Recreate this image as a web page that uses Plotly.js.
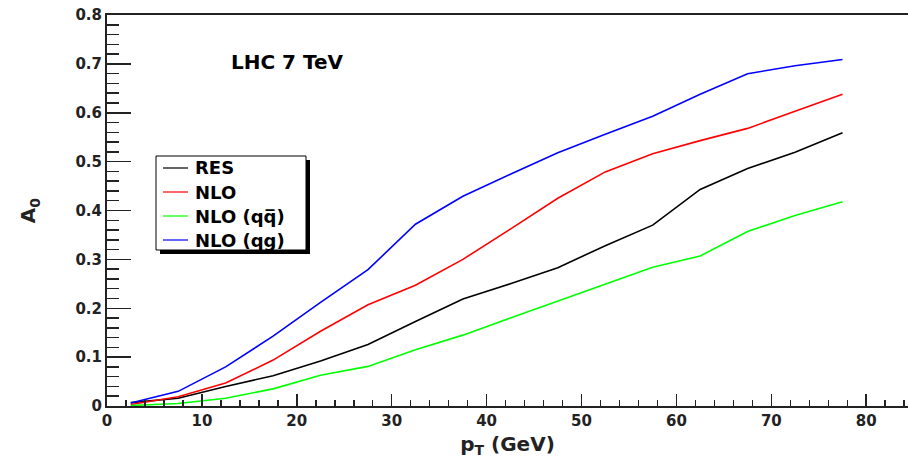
<!DOCTYPE html>
<html>
<head>
<meta charset="utf-8">
<script src="https://cdn.plot.ly/plotly-3.0.1.min.js"></script>
<style>
  html, body { margin: 0; padding: 0; background: #fff; }
  #chart { width: 908px; height: 461px; }
</style>
</head>
<body>
<div id="chart"></div>
<script>
// Angular coefficient A0 versus pT of the lepton pair, LHC 7 TeV
const ptBins = [2.5, 7.5, 12.5, 17.5, 22.5, 27.5, 32.5, 37.5, 42.5, 47.5, 52.5, 57.5, 62.5, 67.5, 72.5, 77.5];

const a0Res    = [0.007, 0.016, 0.040, 0.062, 0.092, 0.126, 0.173, 0.219, 0.250, 0.283, 0.328, 0.370, 0.443, 0.486, 0.519, 0.559];
const a0Nlo    = [0.003, 0.019, 0.047, 0.094, 0.153, 0.207, 0.247, 0.300, 0.362, 0.425, 0.479, 0.516, 0.543, 0.568, 0.603, 0.638];
const a0NloQQ  = [0.001, 0.005, 0.016, 0.035, 0.063, 0.081, 0.115, 0.145, 0.180, 0.215, 0.250, 0.284, 0.307, 0.357, 0.390, 0.418];
const a0NloQG  = [0.006, 0.030, 0.080, 0.143, 0.212, 0.279, 0.372, 0.429, 0.474, 0.518, 0.556, 0.593, 0.638, 0.680, 0.696, 0.709];

const seriesNames  = ['RES', 'NLO', 'NLO (qq\u0305)', 'NLO (qg)'];
const seriesValues = [a0Res, a0Nlo, a0NloQQ, a0NloQG];
const seriesColors = ['#000000', '#ff0000', '#00ff00', '#0000ff'];

const FONT = 'DejaVu Sans, Verdana, sans-serif';
const W = 908, H = 461;
const M = { l: 107, r: 0, t: 15, b: 55 };
const plotW = W - M.l - M.r, plotH = H - M.t - M.b;
// pixel -> paper helpers for the legend box
const px = x => (x - M.l) / plotW;
const py = y => (H - M.b - y) / plotH;

const traces = seriesValues.map((vals, i) => ({
  x: ptBins, y: vals, type: 'scatter', mode: 'lines',
  name: seriesNames[i], showlegend: false,
  line: { color: seriesColors[i], width: 1.6 }
}));

// legend: shadow, framed box, sample lines and labels
const box = { x0: 156, y0: 156, x1: 306, y1: 250 };
const shapes = [
  { type: 'rect', xref: 'paper', yref: 'paper', layer: 'above',
    x0: px(box.x0 + 4), x1: px(box.x1 + 4), y0: py(box.y1 + 4), y1: py(box.y0 + 4),
    fillcolor: '#000', line: { width: 0 } },
  { type: 'rect', xref: 'paper', yref: 'paper', layer: 'above',
    x0: px(box.x0), x1: px(box.x1), y0: py(box.y1), y1: py(box.y0),
    fillcolor: '#fff', line: { color: '#000', width: 1 } }
];
const annotations = [
  { text: '<b>LHC 7 TeV</b>', xref: 'paper', yref: 'paper', x: px(287), y: py(62),
    xanchor: 'center', yanchor: 'middle', showarrow: false,
    font: { family: FONT, size: 20, color: '#000' } }
];
const rowY = [168, 192, 216, 240];
seriesNames.forEach((name, i) => {
  shapes.push({ type: 'line', xref: 'paper', yref: 'paper', layer: 'above',
    x0: px(163), x1: px(188), y0: py(rowY[i]), y1: py(rowY[i]),
    line: { color: seriesColors[i], width: 1.2 } });
  annotations.push({ text: '<b>' + name + '</b>', xref: 'paper', yref: 'paper',
    x: px(193), y: py(rowY[i]), xanchor: 'left', yanchor: 'middle', showarrow: false,
    font: { family: FONT, size: 18, color: '#000' } });
});

const axisCommon = {
  showgrid: false, zeroline: false, showline: true,
  linecolor: '#222', linewidth: 2,
  ticks: 'inside', tickcolor: '#222', tickwidth: 1.5,
  tickfont: { family: FONT, size: 15, color: '#222', weight: 'bold' }
};

const layout = {
  width: W, height: H, margin: M,
  paper_bgcolor: '#fff', plot_bgcolor: '#fff',
  showlegend: false,
  xaxis: Object.assign({}, axisCommon, {
    range: [0, 84.4], dtick: 10, tick0: 0, ticklen: 12, mirror: true,
    minor: { dtick: 2, ticklen: 6, ticks: 'inside', tickcolor: '#222', tickwidth: 1.5 },
    title: { text: '<b>p<sub>T</sub> (GeV)</b>', font: { family: FONT, size: 20, color: '#222' }, standoff: 8 }
  }),
  yaxis: Object.assign({}, axisCommon, {
    range: [0, 0.8], dtick: 0.1, tick0: 0, ticklen: 24,
    minor: { dtick: 0.02, ticklen: 12, ticks: 'inside', tickcolor: '#222', tickwidth: 1.5 },
    title: { text: '<b>A<sub>0</sub></b>', font: { family: FONT, size: 20, color: '#222' }, standoff: 34 }
  }),
  shapes: shapes,
  annotations: annotations
};

Plotly.newPlot('chart', traces, layout, { displayModeBar: false, staticPlot: true });
</script>
</body>
</html>
